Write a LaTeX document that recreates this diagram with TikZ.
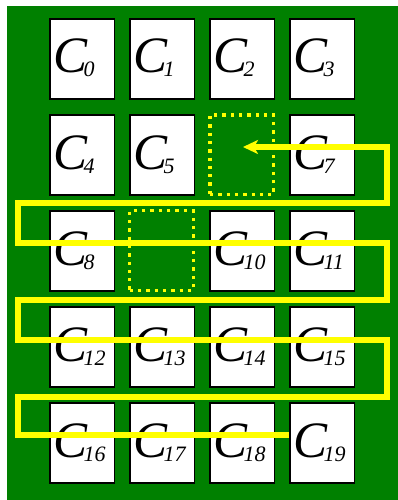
\documentclass[tikz,border=0pt]{standalone}
\usepackage{fontspec}
\setmainfont{Liberation Serif}
\usetikzlibrary{arrows.meta}
\definecolor{bggreen}{HTML}{008000}
\definecolor{yl}{HTML}{FFFF00}
\newcommand{\clab}[1]{\fontsize{51}{51}\selectfont\itshape C\kern-4pt\raisebox{-4pt}{\fontsize{22}{22}\selectfont #1}}
\begin{document}
\begin{tikzpicture}[x=1pt,y=-1pt,
  cbox/.style={draw=black,line width=1.5pt,fill=white,minimum width=64.5pt,minimum height=80pt,inner sep=0pt,outer sep=0pt},
  clabel/.style={inner sep=0pt,outer sep=0pt,anchor=base west},
  dotbox/.style={draw=yl,line width=3.3pt,dash pattern=on 3.3pt off 5pt,minimum width=63.5pt,minimum height=79.5pt,inner sep=0pt,outer sep=0pt},
  ypath/.style={draw=yl,line width=5.5pt,-{Stealth[length=15pt,width=14pt,inset=4pt]}}]
\useasboundingbox (0,0) rectangle (398,500);
\fill[bggreen] (7,6) rectangle (398,500);
\foreach \i in {0,1,2,3,4,5,7,8,10,11,12,13,14,15,16,17,18,19}{
  \pgfmathtruncatemacro\cc{mod(\i,4)}
  \pgfmathtruncatemacro\rr{int(\i/4)}
  \node[cbox] (c\i) at ({82.25+80*\cc},{59+96*\rr}) {};
  \node[clabel,xshift=3.5pt,yshift=-54pt] (l\i) at (c\i.north west) {\clab{\i}};
}
\node[dotbox] (d6) at (241.75,154.75) {};
\node[dotbox] (d9) at (161.5,250.5) {};
\coordinate (s) at (289,435);
\coordinate (e) at (243,147);
\draw[ypath] (s) -- (18,435) -- (18,397) -- (387,397) -- (387,340) -- (18,340) -- (18,300) -- (387,300) -- (387,243) -- (18,243) -- (18,203) -- (387,203) -- (387,147) -- (e);
\end{tikzpicture}
\end{document}
